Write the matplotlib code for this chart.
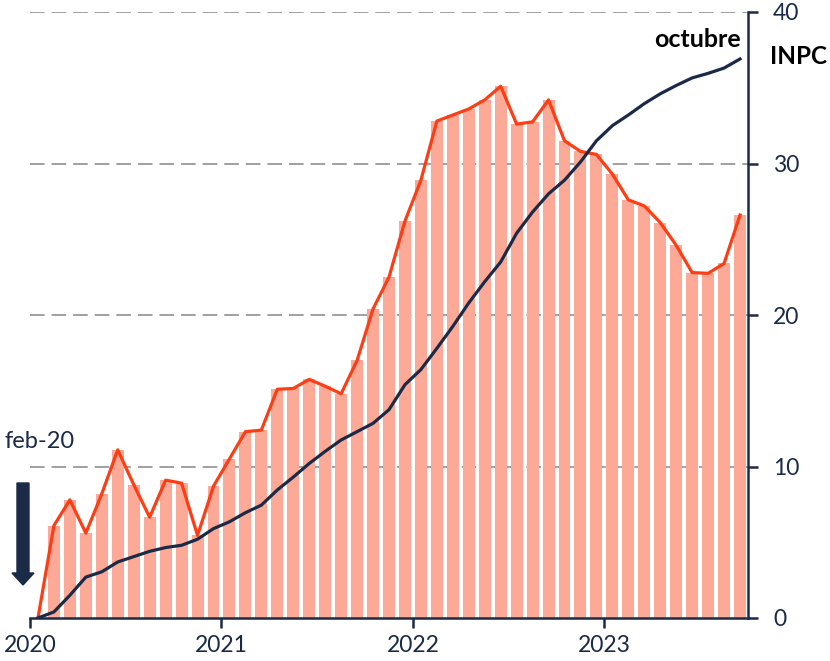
import numpy as np
import matplotlib
matplotlib.use("Agg")
import matplotlib.pyplot as plt
from matplotlib.patches import FancyArrow

plt.rcParams['font.family'] = ['Lato', 'DejaVu Sans']

# Meses desde feb-20 hasta oct-23 (índice 0 = feb-20)
meses = np.arange(45)

# Variación acumulada (%) — serie en barras y línea naranja
acumulada = [0.0, 6.1, 7.8, 5.6, 8.2, 11.1, 8.8, 6.65, 9.1, 8.9, 5.45, 8.7,
             10.5, 12.3, 12.4, 15.1, 15.15, 15.75, 15.3, 14.8, 17.0, 20.4,
             22.5, 26.2, 28.9, 32.8, 33.2, 33.6, 34.2, 35.1, 32.6, 32.75,
             34.2, 31.5, 30.8, 30.6, 29.3, 27.6, 27.2, 26.1, 24.6, 22.8,
             22.75, 23.4, 26.6]

# INPC acumulado (%)
inpc = [0.0, 0.4, 1.5, 2.7, 3.05, 3.7, 4.05, 4.4, 4.65, 4.8, 5.2, 5.9,
        6.35, 6.95, 7.45, 8.45, 9.3, 10.2, 11.0, 11.75, 12.3, 12.85,
        13.75, 15.4, 16.4, 17.8, 19.25, 20.8, 22.2, 23.5, 25.4, 26.8,
        28.0, 28.9, 30.1, 31.5, 32.5, 33.2, 33.95, 34.6, 35.15, 35.65,
        35.95, 36.3, 36.9]

anios = ['2020', '2021', '2022', '2023']
pos_anios = [-0.5, 11.5, 23.5, 35.5]
yticks = [0, 10, 20, 30, 40]

navy = '#1b2a47'
naranja = '#ff3d14'
salmon = '#fcaa97'

fig = plt.figure(figsize=(8.3, 6.61), dpi=100)
ax = fig.add_axes([30/830, 43/661, 718/830, 606/661])

for v in yticks[1:]:
    ax.axhline(v, color='#a0a0a0', lw=1.4, ls=(0, (7.5, 3.6)), zorder=0)

ax.bar(meses, acumulada, width=0.75, color=salmon, zorder=1)
ax.plot(meses, acumulada, color=naranja, lw=2.3, zorder=2)
ax.plot(meses, inpc, color=navy, lw=2.3, zorder=3)

ax.set_xlim(-0.5, 44.5)
ax.set_ylim(0, 40)

ax.yaxis.tick_right()
ax.set_yticks(yticks)
ax.set_xticks(pos_anios)
ax.set_xticklabels(anios)
ax.tick_params(axis='y', colors=navy, labelsize=16.5, length=7, width=1.8, pad=11)
ax.tick_params(axis='x', colors=navy, labelsize=16.5, length=7, width=1.8, pad=5)

for s in ['left', 'top']:
    ax.spines[s].set_visible(False)
for s in ['right', 'bottom']:
    ax.spines[s].set_color(navy)
    ax.spines[s].set_linewidth(1.8)

ax.text(0.99, 0.955, 'octubre', transform=ax.transAxes, ha='right',
        va='center', fontsize=18, fontweight='bold', color='black')
fig.text(770/830, 1 - 57/661, 'INPC', ha='left', va='center',
         fontsize=17.5, fontweight='bold', color='black')

fig.text(4/830, 1 - 442/661, 'feb-20', ha='left', va='center',
         fontsize=17, color=navy)
fig.add_artist(FancyArrow(23/830, 1 - 483/661, 0, -102/661,
                          width=12/830, head_width=22/830,
                          head_length=12/661, length_includes_head=True,
                          color=navy, transform=fig.transFigure))

fig.savefig('out.png', dpi=100)
